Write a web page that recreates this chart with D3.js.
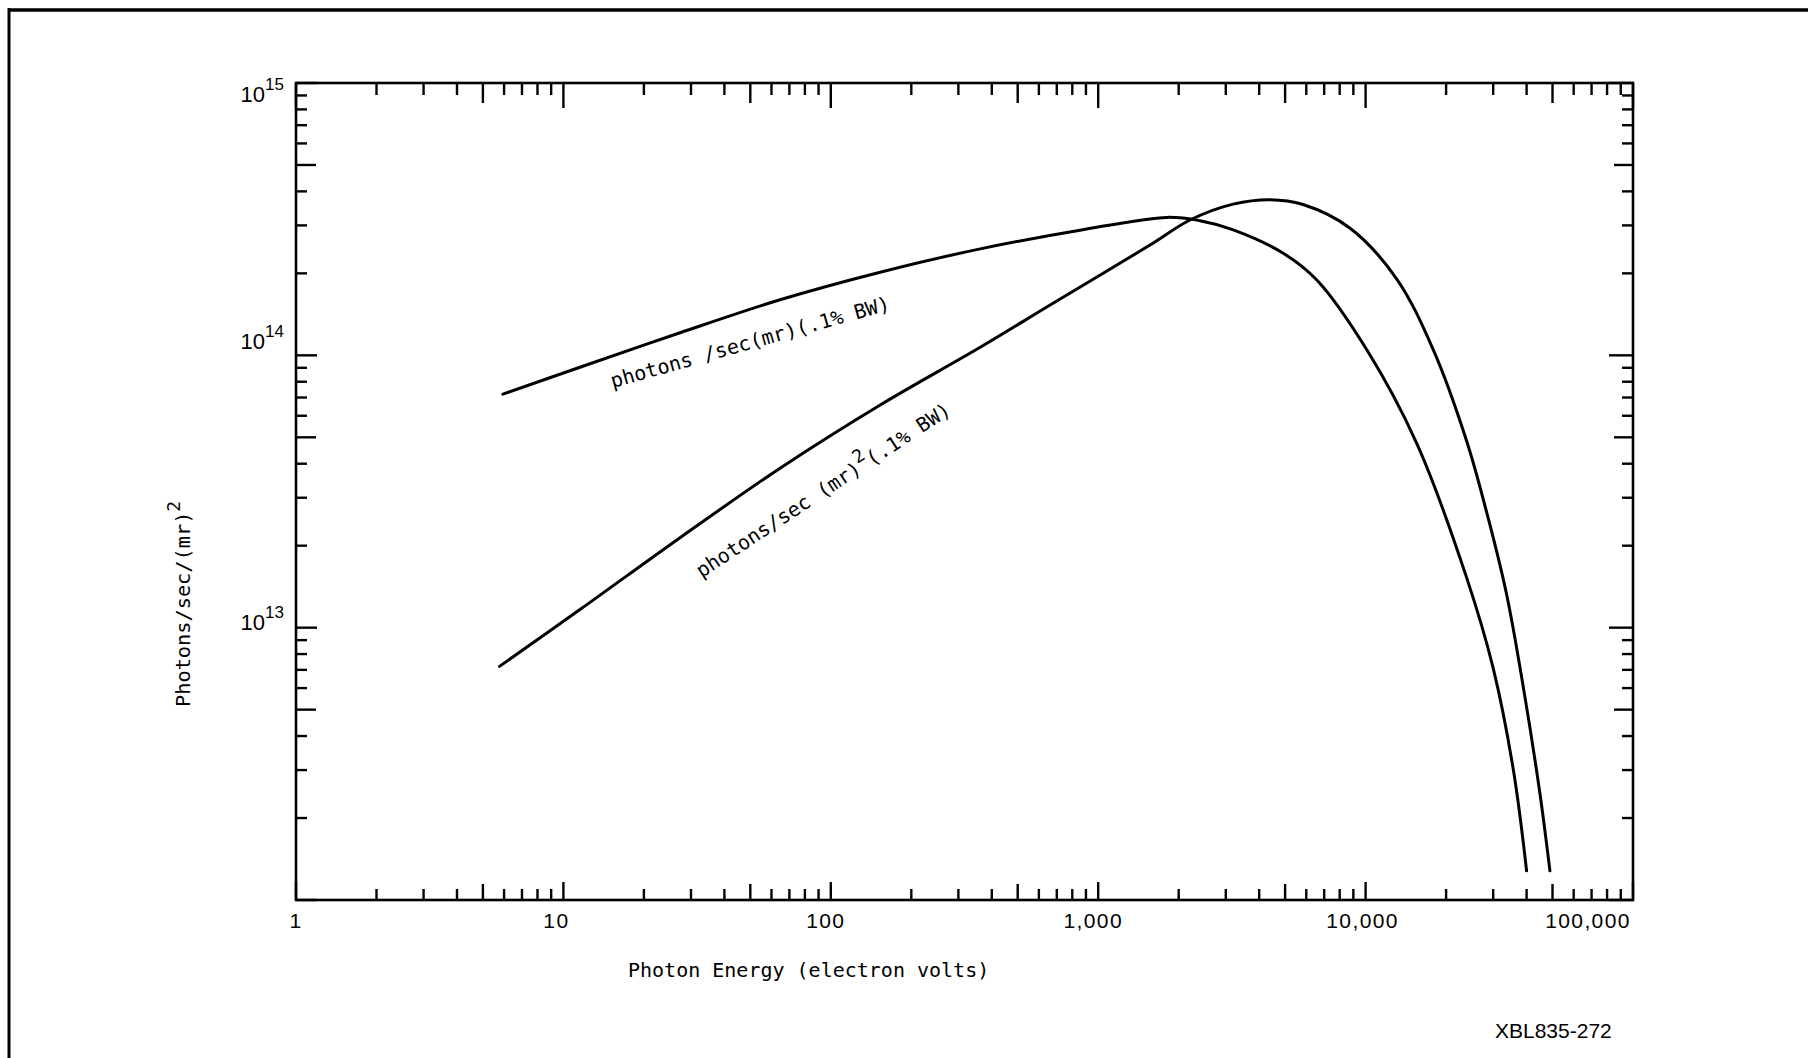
<!DOCTYPE html>
<html>
<head>
<meta charset="utf-8">
<script src="https://cdn.jsdelivr.net/npm/d3@7"></script>
<style>
  body { margin: 0; background: #fff; }
  text { fill: #000; }
</style>
</head>
<body>
<div id="chart"></div>
<script>
// photons/sec(mr)(.1% BW)
let energy1 = [5.94, 11.6, 27.3, 64.6, 153, 362, 855, 1808, 2403, 3200, 4920, 6570, 10090, 15500, 23900, 30000, 35700, 40000];
let flux1 = [7.2e13, 9.06e13, 1.21e14, 1.6e14, 2.02e14, 2.46e14, 2.88e14, 3.21e14, 3.12e14, 2.89e14, 2.37e14, 1.89e14, 1.05e14, 4.77e13, 1.52e13, 7.1e12, 3.0e12, 1.28e12];

// photons/sec (mr)^2 (.1% BW)
let energy2 = [5.77, 11.6, 27.3, 64.6, 153, 362, 661, 1562, 2205, 3196, 4395, 5834, 8750, 13060, 17900, 23870, 28340, 33650, 38820, 44840, 48900];
let flux2 = [7.21e12, 1.17e13, 2.14e13, 3.85e13, 6.57e13, 1.07e14, 1.53e14, 2.54e14, 3.14e14, 3.59e14, 3.73e14, 3.58e14, 2.93e14, 1.91e14, 1.05e14, 4.85e13, 2.66e13, 1.33e13, 6.11e12, 2.47e12, 1.28e12];

let xLabelValues = [1, 10, 100, 1000, 10000, 100000];
let xLabelTexts = ["1", "10", "100", "1,000", "10,000", "100,000"];
let yLabelValues = [1e15, 1e14, 1e13];
let yLabelExps = ["15", "14", "13"];

// where the curve captions sit, in data units
let captionEnergy = [15.3, 32.9];
let captionFlux = [7.59e13, 1.52e13];

let width = 1808, height = 1058;

let svg = d3.select("#chart").append("svg")
  .attr("width", width)
  .attr("height", height)
  .style("background", "#fff");

let x = d3.scaleLog().domain([1, 1e5]).range([296, 1633]);
let y = d3.scaleLog().domain([1e12, 1e15]).range([900, 83]);

// page border (top and left edge of the scanned sheet)
svg.append("line").attr("x1", 8).attr("x2", width).attr("y1", 10).attr("y2", 10)
  .attr("stroke", "#000").attr("stroke-width", 3.5);
svg.append("line").attr("x1", 9).attr("x2", 9).attr("y1", 8).attr("y2", height)
  .attr("stroke", "#000").attr("stroke-width", 3);

// plot frame
svg.append("rect")
  .attr("x", x(1)).attr("y", y(1e15))
  .attr("width", x(1e5) - x(1)).attr("height", y(1e12) - y(1e15))
  .attr("fill", "none").attr("stroke", "#000").attr("stroke-width", 2.6);

function mant(v) {
  return Math.round(v / Math.pow(10, Math.floor(Math.log10(v) + 1e-9)));
}
function len(v, major, five, minor) {
  let m = mant(v);
  return m === 1 ? major : (m === 5 ? five : minor);
}

let ticks = svg.append("g").attr("stroke", "#000").attr("stroke-width", 2.4);

// bottom + top ticks (inward)
x.ticks().forEach(v => {
  ticks.append("line").attr("x1", x(v)).attr("x2", x(v))
    .attr("y1", y(1e12)).attr("y2", y(1e12) - len(v, 18, 16, 11));
  ticks.append("line").attr("x1", x(v)).attr("x2", x(v))
    .attr("y1", y(1e15)).attr("y2", y(1e15) + len(v, 25, 20, 12));
});

// left + right ticks (inward)
y.ticks().forEach(v => {
  ticks.append("line").attr("y1", y(v)).attr("y2", y(v))
    .attr("x1", x(1)).attr("x2", x(1) + len(v, 21, 20, 11));
  ticks.append("line").attr("y1", y(v)).attr("y2", y(v))
    .attr("x1", x(1e5)).attr("x2", x(1e5) - len(v, 24, 19, 11));
});

// x tick labels (hand lettered, slightly left of their ticks)
let xNudge = [0, -7, -5, -5, -3, -45];
svg.append("g").selectAll("text")
  .data(xLabelValues)
  .join("text")
  .attr("x", (d, i) => x(d) + xNudge[i])
  .attr("y", y(1e12) + 28)
  .attr("text-anchor", "middle")
  .style("font-family", "Liberation Sans, Arial, sans-serif")
  .style("font-size", "21px")
  .style("letter-spacing", "1.4px")
  .text((d, i) => xLabelTexts[i]);

// y tick labels 10^n
let yNudge = [19, -6, 2];
let yl = svg.append("g").selectAll("text")
  .data(yLabelValues)
  .join("text")
  .attr("x", x(1) - 12)
  .attr("y", (d, i) => y(d) + yNudge[i])
  .attr("text-anchor", "end")
  .style("font-family", "Liberation Sans, Arial, sans-serif")
  .style("font-size", "22px");
yl.append("tspan").text("10");
yl.append("tspan").attr("dy", -12).style("font-size", "17px").text((d, i) => yLabelExps[i]);

// curves
let line = d3.line()
  .x(d => x(d[0]))
  .y(d => y(d[1]))
  .curve(d3.curveCatmullRom.alpha(0.5));

let series = [d3.zip(energy1, flux1), d3.zip(energy2, flux2)];
svg.append("g").selectAll("path")
  .data(series)
  .join("path")
  .attr("d", line)
  .attr("fill", "none")
  .attr("stroke", "#000")
  .attr("stroke-width", 3)
  .attr("stroke-linecap", "round");

// curve captions
let mono = "DejaVu Sans Mono, Liberation Mono, monospace";
svg.append("text")
  .attr("transform", `translate(${x(captionEnergy[0])},${y(captionFlux[0])}) rotate(-15.7)`)
  .style("font-family", mono).style("font-size", "20px")
  .text("photons /sec(mr)(.1% BW)");

let cap2 = svg.append("text")
  .attr("transform", `translate(${x(captionEnergy[1])},${y(captionFlux[1])}) rotate(-33.3)`)
  .style("font-family", mono).style("font-size", "20px");
cap2.append("tspan").text("photons/sec (mr)");
cap2.append("tspan").attr("dy", -10).style("font-size", "18px").text("2");
cap2.append("tspan").attr("dy", 10).text("(.1% BW)");

// axis titles
svg.append("text")
  .attr("x", 628).attr("y", 977)
  .style("font-family", mono).style("font-size", "20px")
  .text("Photon Energy (electron volts)");

let yt = svg.append("text")
  .attr("transform", "translate(190,707) rotate(-90)")
  .style("font-family", mono).style("font-size", "20.3px");
yt.append("tspan").text("Photons/sec/(mr)");
yt.append("tspan").attr("dy", -10).style("font-size", "18px").text("2");

// figure id
svg.append("text")
  .attr("x", 1495).attr("y", 1038)
  .style("font-family", "Liberation Sans, Arial, sans-serif")
  .style("font-size", "21px")
  .text("XBL835-272");
</script>
</body>
</html>
